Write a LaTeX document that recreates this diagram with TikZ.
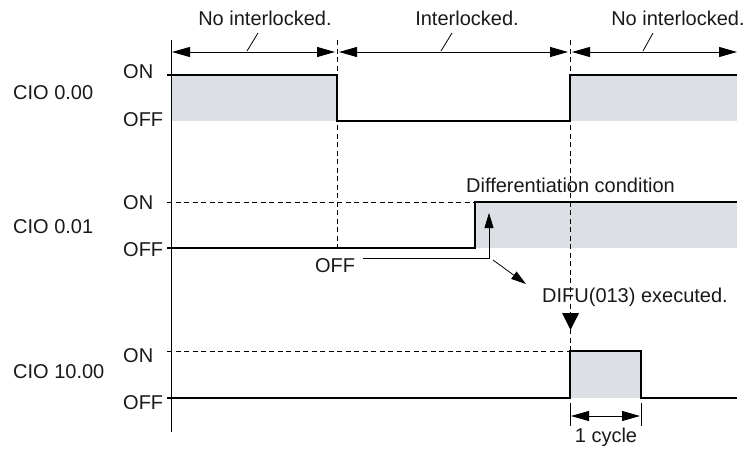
\documentclass[tikz,border=0pt]{standalone}
\usepackage{fontspec}
\setmainfont{Liberation Sans}
\usetikzlibrary{arrows.meta}
\definecolor{bandgray}{HTML}{DCDFE3}

\begin{document}
\begin{tikzpicture}[x=1pt,y=-1pt,
  lbl/.style={font=\fontsize{20}{24}\selectfont,inner sep=0pt,text=black!90},
  level/.style={lbl,anchor=west},
  signal/.style={line width=1.8pt},
  fine/.style={line width=0.8pt},
  guide/.style={line width=0.8pt,dash pattern=on 5pt off 3.5pt},
  band/.style={fill=bandgray,draw=none},
  span/.style={fine,{Triangle[length=18pt,width=10pt]}-{Triangle[length=18pt,width=10pt]}},
  point/.style={fine,-{Triangle[length=15pt,width=9pt]}}
]
\useasboundingbox (0,0) rectangle (748,451);

% shaded ON periods
\fill[band] (171,75) rectangle (337,121);
\fill[band] (570,75) rectangle (737,121);
\fill[band] (475,202) rectangle (737,248);
\fill[band] (570,351) rectangle (641,398);

% time axis and guides
\draw[fine] (171,40) -- (171,432);
\draw[guide] (337,40) -- (337,248);
\draw[guide] (570,40) -- (570,351);
\draw[guide] (167,202) -- (475,202);
\draw[guide] (167,351) -- (570,351);

% signals
\draw[signal] (167,75) -- (337,75) -- (337,121) -- (570,121) -- (570,75) -- (737,75);
\draw[signal] (167,248) -- (475,248) -- (475,202) -- (737,202);
\draw[signal] (167,398) -- (570,398) -- (570,351) -- (641,351) -- (641,398) -- (737,398);

% signal names and levels
\node[lbl,anchor=west] (cio0) at (13,93) {CIO 0.00};
\node[level] (on0) at (123,72) {ON};
\node[level] (off0) at (123,120) {OFF};
\node[lbl,anchor=west] (cio1) at (13,227) {CIO 0.01};
\node[level] (on1) at (123,203) {ON};
\node[level] (off1) at (123,250) {OFF};
\node[lbl,anchor=west] (cio10) at (13,372) {CIO 10.00};
\node[level] (on10) at (123,356) {ON};
\node[level] (off10) at (123,403) {OFF};

% interlock periods
\node[lbl] (free1) at (265,18) {No interlocked.};
\node[lbl] (lock) at (467,18) {Interlocked.};
\node[lbl] (free2) at (678,18) {No interlocked.};
\coordinate (t0) at (172,52);
\coordinate (t1) at (335,52);
\coordinate (t2) at (339,52);
\coordinate (t3) at (568,52);
\coordinate (t4) at (572,52);
\coordinate (t5) at (737,52);
\draw[span] (t0) -- (t1);
\draw[span] (t2) -- (t3);
\draw[span] (t4) -- (t5);
\draw[fine] (258,33) -- (247,51);
\draw[fine] (452,33) -- (441,51);
\draw[fine] (653,33) -- (643,51);

% differentiation
\node[lbl] (cond) at (570.5,185) {Differentiation condition};
\node[lbl] (offnote) at (335,266) {OFF};
\coordinate (elbow) at (363,258);
\coordinate (rise) at (489,213);
\draw[point] (elbow) -| (rise);
\coordinate (d0) at (493,260);
\coordinate (d1) at (526,284);
\draw[point] (d0) -- (d1);
\node[lbl] (difu) at (635,297) {DIFU(013) executed.};
\fill (562,313) -- (579,313) -- (570.5,330) -- cycle;

% one cycle
\draw[fine] (570,403) -- (570,426);
\draw[fine] (641,403) -- (641,426);
\coordinate (c0) at (571,416);
\coordinate (c1) at (640,416);
\draw[span] (c0) -- (c1);
\node[lbl] (cycle) at (606,437) {1 cycle};
\end{tikzpicture}
\end{document}
